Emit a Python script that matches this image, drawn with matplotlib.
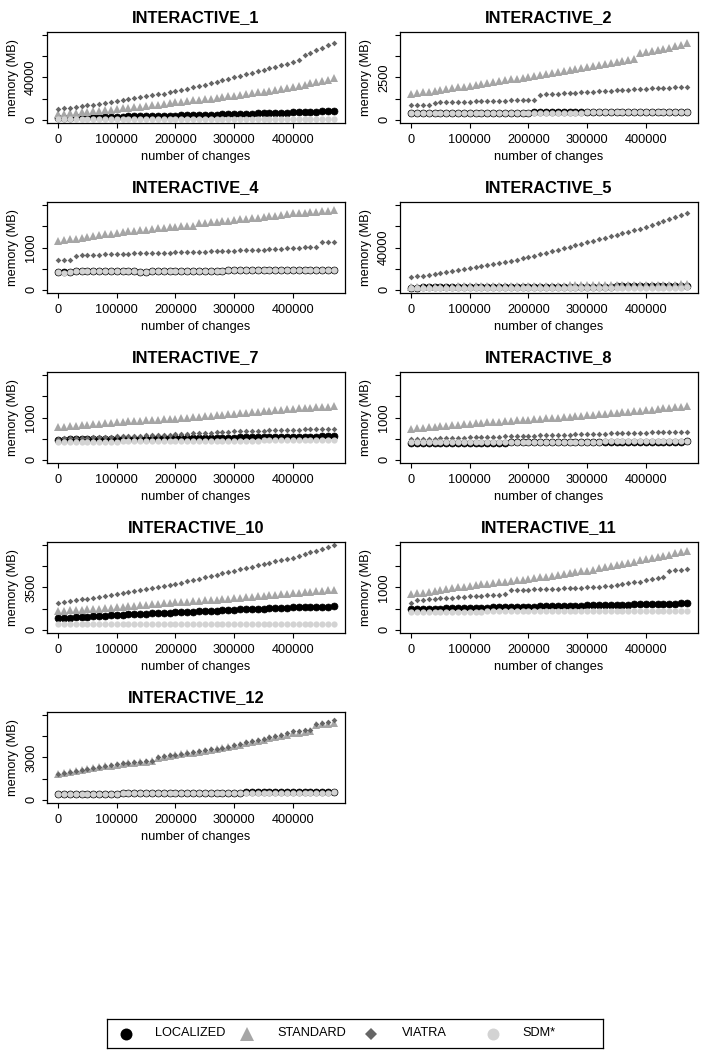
import matplotlib
matplotlib.use("Agg")
import matplotlib.pyplot as plt

plt.rcParams['font.family'] = ['Liberation Sans', 'DejaVu Sans']

# ---------------- data ----------------
changes = list(range(0, 480000, 10000))  # 48 measurement points

titles = ["INTERACTIVE_1", "INTERACTIVE_2", "INTERACTIVE_4", "INTERACTIVE_5",
          "INTERACTIVE_7", "INTERACTIVE_8", "INTERACTIVE_10", "INTERACTIVE_11",
          "INTERACTIVE_12"]
y_max = [80000, 5000, 2000, 80000, 2000, 2000, 7000, 2000, 6000]
y_mid_label = ["40000", "2500", "1000", "40000", "1000", "1000", "3500", "1000", "3000"]

# INTERACTIVE_1
loc_1 = [1800,1900,2000,2100,2200,2300,2400,2500,2600,2700,2800,2900,3000,3100,3200,3300,3400,3500,3600,3700,
         3800,3950,4100,4250,4400,4550,4700,4850,5000,5150,5300,5450,5600,5750,5900,6050,6200,6350,6500,6650,
         6800,7000,7200,7400,7600,7800,8000,8300]
std_1 = [5400,5800,6200,6600,7000,7500,8000,8500,9000,9500,10000,10600,11200,11800,12400,13000,13600,14200,14900,15600,
         16300,17000,17600,18200,18800,19400,20000,20700,21400,22000,22700,23500,24300,25100,25900,26700,27500,28300,29200,30100,
         31000,32100,33200,34400,35600,36800,38000,39300]
via_1 = [10000,10700,11300,12000,12700,13500,14300,15100,15900,16800,17800,18700,19500,20300,21200,22100,23000,23900,24800,25800,
         26800,28000,29300,30600,31900,33200,34500,35900,37300,38800,40300,41700,43100,44500,45900,47300,48700,50100,51500,52900,
         54300,56400,61000,63400,65800,68300,70700,73200]
sdm_1 = [400,400,410,420,420,430,440,440,450,460,460,470,480,480,490,500,500,510,520,520,
         530,540,540,550,560,560,570,580,580,590,600,600,610,620,620,630,640,640,650,660,
         660,670,680,680,690,700,700,710]

# INTERACTIVE_2
loc_2 = [400,395,400,400,400,400,400,400,400,400,400,400,420,420,420,420,420,420,420,420,
         420,425,425,425,425,425,425,425,425,425,430,430,430,430,430,430,430,430,430,430,
         430,430,430,430,430,430,470,460]
std_2 = [1500,1560,1610,1660,1710,1760,1810,1860,1910,1960,2010,2060,2110,2160,2230,2290,2340,2390,2440,2490,
         2550,2600,2660,2720,2780,2830,2880,2940,3000,3060,3110,3170,3230,3290,3350,3410,3480,3550,3620,3950,
         4010,4070,4130,4200,4270,4340,4420,4520]
via_2 = [850,850,860,860,1010,1020,1030,1040,1050,1060,1070,1080,1090,1100,1110,1120,1130,1140,1150,1160,
         1170,1180,1480,1500,1520,1540,1560,1580,1600,1620,1640,1660,1680,1700,1720,1740,1760,1780,1800,1820,
         1840,1860,1880,1890,1900,1910,1930,1950]
sdm_2 = [395,390,395,395,395,395,395,395,395,395,395,395,415,415,415,415,415,415,415,415,
         415,420,420,420,420,420,420,420,420,420,425,425,425,425,425,425,425,425,425,425,
         425,425,425,425,425,425,465,455]

# INTERACTIVE_4
loc_4 = [420,410,415,440,440,440,440,440,440,440,440,440,440,440,430,420,440,440,440,440,
         440,440,440,440,440,440,440,440,440,460,460,460,460,460,460,460,460,460,460,460,
         460,460,460,470,470,470,470,470]
std_4 = [1150,1170,1190,1210,1230,1250,1270,1290,1310,1330,1350,1365,1380,1395,1410,1425,1440,1455,1465,1480,
         1490,1500,1510,1520,1580,1590,1600,1615,1625,1640,1650,1665,1680,1695,1710,1725,1740,1750,1765,1785,
         1810,1820,1830,1840,1850,1860,1870,1880]
via_4 = [715,715,715,810,815,820,825,830,835,840,850,852,855,858,862,865,868,872,876,880,
         885,888,892,896,900,904,908,912,916,920,925,930,935,940,945,950,955,962,970,980,
         990,1000,1005,1010,1020,1130,1135,1140]
sdm_4 = [415,405,410,435,435,435,435,435,435,435,435,435,435,435,425,415,435,435,435,435,
         435,435,435,435,435,435,435,435,435,455,455,455,455,455,455,455,455,455,455,455,
         455,455,455,465,465,465,465,465]

# INTERACTIVE_5
loc_5 = [2000,2000,2050,2050,2100,2100,2150,2150,2200,2200,2250,2250,2300,2300,2350,2350,2400,2400,2450,2450,
         2500,2500,2550,2550,2600,2600,2650,2650,2700,2700,2750,2800,2850,2900,2950,3000,3050,3100,3150,3200,
         3250,3300,3350,3400,3450,3500,3550,3600]
std_5 = [2600,2650,2700,2750,2800,2850,2900,2950,3000,3050,3100,3150,3200,3250,3300,3350,3400,3450,3500,3550,
         3600,3650,3700,3750,3800,3850,3900,3950,4000,4050,4100,4150,4200,4250,4300,4350,4400,4450,4500,4550,
         4600,4650,4700,4750,4800,4850,4900,4950]
via_5 = [11700,12500,13300,14100,14900,15700,16600,17500,18500,19500,20600,21600,22600,23600,24600,25600,26600,27600,28600,29600,
         30700,32100,33500,34900,36300,37700,39100,40500,42000,43500,45000,46400,47800,49200,50600,52000,53400,54800,56200,57700,
         59300,61000,62800,64800,66800,68800,70800,72900]
sdm_5 = [1400,1400,1420,1420,1440,1440,1460,1460,1480,1480,1500,1500,1520,1520,1540,1540,1560,1560,1580,1580,
         1600,1600,1620,1620,1640,1640,1660,1660,1680,1680,1700,1720,1740,1760,1780,1800,1820,1840,1860,1880,
         1900,1920,1940,1960,1980,2000,2020,2040]

# INTERACTIVE_7
loc_7 = [475,476,478,480,481,483,485,486,488,490,491,493,495,496,498,500,501,503,505,506,
         508,510,511,513,515,516,518,520,521,523,525,526,528,530,531,533,535,536,538,540,
         541,543,545,546,548,550,550,552]
std_7 = [775,785,795,805,815,825,835,845,860,875,890,898,906,914,922,930,938,946,954,962,
         970,982,994,1006,1018,1030,1042,1054,1066,1078,1090,1102,1114,1126,1138,1150,1162,1174,1186,1198,
         1210,1218,1226,1234,1242,1250,1258,1265]
via_7 = [500,505,510,515,520,525,530,535,540,545,550,555,560,565,570,575,580,585,590,595,
         600,607,614,621,628,635,642,649,656,663,670,674,678,682,686,690,694,698,702,706,
         710,714,718,722,726,730,733,735]
sdm_7 = [420,421,422,423,424,425,426,427,428,429,430,431,432,433,434,435,436,437,438,439,
         440,441,442,443,444,445,446,447,448,449,450,451,452,453,454,455,456,457,458,459,
         460,460,460,460,460,460,460,460]

# INTERACTIVE_8
loc_8 = [395,390,400,400,400,400,400,400,400,400,405,405,405,405,405,405,405,410,410,410,
         410,410,410,410,410,415,415,415,415,415,415,415,415,420,420,420,420,420,420,420,
         425,425,425,425,430,430,430,435]
std_8 = [735,747,759,771,783,795,807,819,831,843,855,865,874,884,893,903,912,922,931,941,
         950,960,970,980,990,1000,1010,1020,1030,1040,1050,1062,1074,1086,1098,1110,1122,1134,1146,1158,
         1170,1185,1200,1215,1230,1245,1260,1275]
via_8 = [480,485,490,495,500,505,510,514,518,522,526,530,534,538,542,546,550,554,558,562,
         566,570,574,578,582,586,590,594,598,602,606,610,614,618,622,626,630,633,636,639,
         642,645,648,650,652,654,655,657]
sdm_8 = [420,415,420,420,420,420,420,420,420,420,425,425,425,425,425,425,425,425,425,425,
         425,425,425,430,430,430,430,430,430,430,430,430,430,435,435,435,435,440,440,440,
         440,440,440,440,445,445,445,445]

# INTERACTIVE_10
loc_10 = [940,970,1000,1030,1060,1090,1115,1140,1165,1190,1215,1237,1259,1281,1303,1325,1347,1369,1391,1413,
          1435,1457,1479,1501,1523,1545,1567,1589,1611,1633,1655,1675,1695,1715,1735,1755,1775,1795,1815,1835,
          1850,1862,1874,1886,1898,1910,1920,1930]
std_10 = [1545,1575,1605,1635,1665,1695,1725,1755,1785,1815,1850,1891,1932,1973,2014,2055,2096,2137,2178,2219,
          2260,2294,2328,2362,2396,2430,2464,2498,2532,2566,2600,2641,2682,2723,2764,2805,2846,2887,2928,2969,
          3010,3053,3096,3139,3182,3225,3268,3310]
via_10 = [2210,2284,2358,2432,2506,2580,2654,2728,2802,2876,2950,3033,3116,3199,3282,3365,3448,3531,3614,3697,
          3780,3891,4002,4113,4224,4335,4446,4557,4668,4779,4890,5000,5110,5220,5330,5440,5550,5660,5770,5880,
          5990,6135,6280,6425,6570,6715,6860,7010]
sdm_10 = [470,470,470,470,470,470,470,470,470,470,470,470,470,470,470,470,470,470,470,470,
          470,470,470,470,470,470,470,470,470,470,470,470,470,470,470,470,470,470,470,470,
          470,470,470,470,470,470,470,470]

# INTERACTIVE_11
loc_11 = [490,492,494,496,498,500,503,506,509,512,515,518,521,524,527,530,533,536,539,542,
          545,548,551,554,557,560,563,566,569,572,575,578,581,584,587,590,593,596,599,602,
          605,608,611,614,617,620,625,630]
std_11 = [840,860,880,900,920,940,960,980,1000,1020,1040,1056,1072,1088,1104,1120,1136,1152,1168,1184,
          1200,1220,1240,1260,1280,1300,1320,1340,1360,1380,1400,1427,1454,1481,1508,1535,1562,1589,1616,1643,
          1670,1698,1726,1754,1782,1810,1838,1865]
via_11 = [630,700,710,720,730,740,750,760,770,780,790,800,810,815,820,830,840,935,940,945,
          950,955,960,965,970,975,980,985,990,995,1000,1010,1020,1030,1040,1060,1080,1100,1120,1140,
          1170,1200,1230,1260,1400,1410,1420,1440]
sdm_11 = [425,425,425,426,426,427,427,428,428,429,429,430,430,431,431,432,432,433,433,434,
          434,435,435,436,436,437,437,438,438,439,439,440,440,441,441,442,442,443,443,444,
          444,445,445,446,447,448,449,450]

# INTERACTIVE_12
loc_12 = [430,430,430,430,430,430,430,430,430,430,430,480,480,480,480,480,480,480,480,480,
          480,480,480,480,480,480,480,480,480,480,480,490,520,520,520,520,520,520,520,520,
          520,520,520,520,530,530,530,545]
std_12 = [1800,1870,1940,2010,2080,2150,2220,2290,2360,2430,2500,2540,2580,2620,2660,2700,2740,2990,3050,3110,
          3170,3230,3290,3350,3410,3470,3530,3590,3650,3720,3820,3910,4000,4090,4180,4270,4360,4450,4540,4630,
          4720,4780,4840,4900,5300,5350,5400,5450]
via_12 = [1850,1920,1990,2060,2130,2200,2270,2340,2410,2480,2540,2580,2620,2660,2700,2740,2770,3030,3090,3150,
          3210,3270,3330,3390,3450,3510,3570,3630,3690,3760,3900,3990,4080,4170,4260,4350,4440,4530,4620,4710,
          4860,4900,4940,4980,5400,5480,5560,5640]
sdm_12 = [430,430,430,430,430,430,430,430,430,430,430,470,470,470,470,470,470,470,470,470,
          470,470,470,470,470,470,470,470,470,470,470,480,500,500,500,500,500,500,500,500,
          500,500,500,500,505,505,505,510]

localized = [loc_1, loc_2, loc_4, loc_5, loc_7, loc_8, loc_10, loc_11, loc_12]
standard = [std_1, std_2, std_4, std_5, std_7, std_8, std_10, std_11, std_12]
viatra = [via_1, via_2, via_4, via_5, via_7, via_8, via_10, via_11, via_12]
sdm = [sdm_1, sdm_2, sdm_4, sdm_5, sdm_7, sdm_8, sdm_10, sdm_11, sdm_12]

series_names = ["LOCALIZED", "STANDARD", "VIATRA", "SDM*"]
x_ticks = [0, 100000, 200000, 300000, 400000]

# ---------------- styling ----------------
C_LOC = "#000000"
C_STD = "#A6A6A6"
C_VIA = "#666666"
C_SDM = "#D3D3D3"

W, H = 706, 1059
fig = plt.figure(figsize=(W / 100, H / 100), dpi=100)

FS = 9.2
for k in range(9):
    row, col = divmod(k, 2)
    left_px = 47 + 353 * col
    top_px = 32 + 170 * row
    ax = fig.add_axes([left_px / W, 1 - (top_px + 91) / H, 298 / W, 91 / H])
    for v in (localized, standard, viatra, sdm):
        assert len(v[k]) == len(changes)
    ax.plot(changes, localized[k], ls='none', marker='o', ms=5.0, mfc=C_LOC, mec=C_LOC, mew=0.5)
    ax.plot(changes, standard[k], ls='none', marker='^', ms=5.8, mfc=C_STD, mec=C_STD, mew=0)
    ax.plot(changes, viatra[k], ls='none', marker='D', ms=2.9, mfc=C_VIA, mec=C_VIA, mew=0)
    ax.plot(changes, sdm[k], ls='none', marker='o', ms=4.5, mfc=C_SDM, mec=C_SDM, mew=0)

    x0, x1 = 0, 470000
    ax.set_xlim(x0 - 0.04 * (x1 - x0), x1 + 0.04 * (x1 - x0))
    ym = y_max[k]
    ax.set_ylim(-0.04 * ym, 1.04 * ym)
    ax.set_xticks(x_ticks)
    ax.set_xticklabels([str(t) for t in x_ticks], fontsize=FS)
    yt = [0, ym / 4, ym / 2, 3 * ym / 4, ym]
    ax.set_yticks(yt)
    ax.set_yticklabels(["0", "", y_mid_label[k], "", ""], fontsize=FS, rotation=90, va='center')
    ax.tick_params(direction='out', length=3.6, width=0.8, pad=4.5)
    ax.tick_params(axis='y', pad=3.5)
    for s in ax.spines.values():
        s.set_linewidth(0.9)
    ax.set_title(titles[k], fontsize=11.8, fontweight='bold', pad=7)
    ax.set_xlabel("number of changes", fontsize=FS)
    ax.xaxis.set_label_coords(0.5, -34 / 91)
    ax.xaxis.label.set_va('center')
    ax.set_ylabel("memory (MB)", fontsize=FS)
    ax.yaxis.set_label_coords(-34 / 298, 0.5)
    ax.yaxis.label.set_va('center')

# ---------------- legend ----------------
lx0, lx1, ly_top, ly_bot = 107, 603, 1019, 1048
lax = fig.add_axes([lx0 / W, 1 - ly_bot / H, (lx1 - lx0) / W, (ly_bot - ly_top) / H])
lax.set_xlim(0, lx1 - lx0)
lax.set_ylim(0, ly_bot - ly_top)
lax.set_xticks([])
lax.set_yticks([])
for s in lax.spines.values():
    s.set_linewidth(0.9)
yc = (ly_bot - ly_top) / 2
leg_marker_x = [19, 140, 264, 386]
leg_text_x = [48, 170, 295, 415]
leg_styles = [dict(marker='o', ms=8.6, color=C_LOC),
              dict(marker='^', ms=10.0, color=C_STD),
              dict(marker='D', ms=6.4, color=C_VIA),
              dict(marker='o', ms=8.6, color=C_SDM)]
for mx, tx, name, st in zip(leg_marker_x, leg_text_x, series_names, leg_styles):
    lax.plot([mx], [yc], ls='none', mew=0, **st)
    lax.text(tx, yc, name, fontsize=FS, va='center', ha='left')

fig.savefig("out.png", dpi=100)
